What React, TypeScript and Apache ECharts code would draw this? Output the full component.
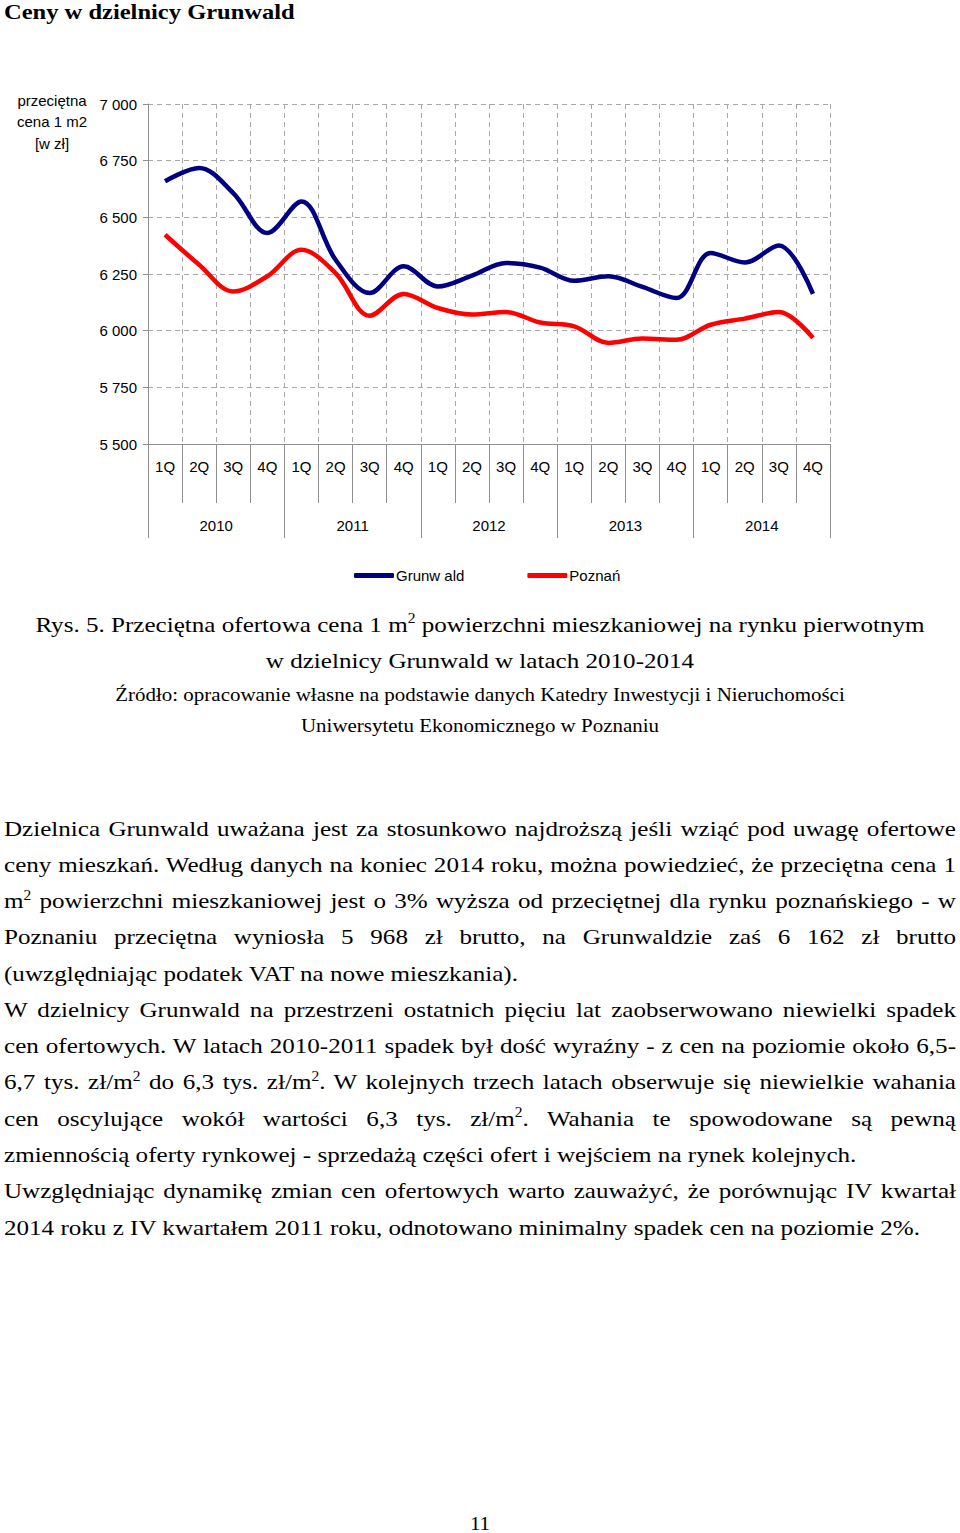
import React, { useEffect, useRef } from "react";
import * as echarts from "echarts";

const quarters = [
  "1Q", "2Q", "3Q", "4Q", "1Q", "2Q", "3Q", "4Q", "1Q", "2Q",
  "3Q", "4Q", "1Q", "2Q", "3Q", "4Q", "1Q", "2Q", "3Q", "4Q",
];
const years = ["2010", "2011", "2012", "2013", "2014"];
const grunwald = [
  6659, 6718, 6607, 6431, 6570, 6313, 6166, 6284, 6195, 6243,
  6299, 6278, 6220, 6240, 6193, 6144, 6343, 6301, 6376, 6162,
];
const poznan = [
  6423, 6291, 6173, 6240, 6357, 6254, 6066, 6162, 6100, 6071,
  6082, 6036, 6019, 5946, 5965, 5960, 6026, 6053, 6082, 5968,
];
const seriesNames = ["Grunw ald", "Poznań"];
const yTicks = { min: 5500, max: 7000, step: 250 };
const yNameLines = ["przeciętna", "cena 1 m2", "[w zł]"];

const SANS = '"Liberation Sans", Arial, sans-serif';
const SERIF = '"Liberation Serif", "Times New Roman", serif';
const GREY = "#8f8f8f";
const DASH = "#a8a8a8";

function Chart() {
  const ref = useRef<HTMLDivElement>(null);
  useEffect(() => {
    if (!ref.current) return;
    const chart = echarts.init(ref.current, null, { renderer: "svg" });
    const grid = { left: 148, right: 130, top: 24, bottom: 156, containLabel: false };
    chart.setOption({
      animation: false,
      textStyle: { fontFamily: SANS },
      grid: [grid, { ...grid }],
      legend: {
        left: 349,
        top: 483,
        itemWidth: 40,
        itemHeight: 5,
        itemGap: 63,
        icon: "roundRect",
        textStyle: { fontFamily: SANS, fontSize: 15, color: "#000", padding: [0, 0, 0, -3] },
        data: seriesNames,
      },
      graphic: yNameLines.map((t, i) => ({
        type: "text",
        x: 52,
        y: [20, 41, 63][i],
        style: {
          text: t,
          fill: "#000",
          fontSize: 15,
          fontFamily: SANS,
          align: "center",
          verticalAlign: "middle",
        },
      })),
      xAxis: [
        {
          type: "category",
          gridIndex: 0,
          position: "bottom",
          data: quarters,
          boundaryGap: true,
          axisLine: { show: true, lineStyle: { color: GREY, width: 1 } },
          axisTick: { show: true, interval: 0, length: 59, lineStyle: { color: GREY } },
          axisLabel: { interval: 0, margin: 15, fontSize: 15, color: "#000", fontFamily: SANS },
          splitLine: { show: true, interval: 0, lineStyle: { color: DASH, type: [5, 4], width: 1 } },
        },
        {
          type: "category",
          gridIndex: 1,
          position: "bottom",
          data: years,
          boundaryGap: true,
          axisLine: { show: false },
          axisTick: { show: true, interval: 0, length: 94, lineStyle: { color: GREY } },
          axisLabel: { interval: 0, margin: 74, fontSize: 15, color: "#000", fontFamily: SANS },
          splitLine: { show: false },
        },
      ],
      yAxis: [
        {
          type: "value",
          gridIndex: 0,
          min: yTicks.min,
          max: yTicks.max,
          interval: yTicks.step,
          axisLine: { show: true, lineStyle: { color: GREY, width: 1 } },
          axisTick: { show: true, length: 5, lineStyle: { color: GREY } },
          axisLabel: {
            margin: 11,
            fontSize: 15,
            color: "#000",
            fontFamily: SANS,
            formatter: (v: number) =>
              `${Math.floor(v / 1000)} ${String(v % 1000).padStart(3, "0")}`,
          },
          splitLine: { show: true, lineStyle: { color: DASH, type: [5, 4], width: 1 } },
        },
        {
          type: "value",
          gridIndex: 1,
          min: yTicks.min,
          max: yTicks.max,
          show: false,
          splitLine: { show: false },
        },
      ],
      series: [
        {
          name: seriesNames[0],
          type: "line",
          xAxisIndex: 0,
          yAxisIndex: 0,
          data: grunwald,
          smooth: 0.35,
          symbol: "none",
          color: "#000080",
          lineStyle: { color: "#000080", width: 4.5 },
        },
        {
          name: seriesNames[1],
          type: "line",
          xAxisIndex: 0,
          yAxisIndex: 0,
          data: poznan,
          smooth: 0.35,
          symbol: "none",
          color: "#ff0000",
          lineStyle: { color: "#ff0000", width: 4.5 },
        },
      ],
    });
    return () => chart.dispose();
  }, []);
  return (
    <div
      ref={ref}
      style={{ position: "absolute", left: 0, top: 80, width: 960, height: 520 }}
    />
  );
}

const SX = 1.14;

function Line(props: {
  top: number;
  left?: number;
  width?: number;
  size?: number;
  lh?: number;
  align?: "left" | "center" | "justify";
  bold?: boolean;
  children: React.ReactNode;
}) {
  const { top, left = 0, width = 960, size = 22, lh, align = "left", bold = false, children } = props;
  return (
    <div
      style={{
        position: "absolute",
        top,
        left,
        width: width / SX,
        transform: `scaleX(${SX})`,
        transformOrigin: "0 0",
        fontFamily: SERIF,
        fontSize: size,
        lineHeight: `${lh ?? size}px`,
        fontWeight: bold ? 700 : 400,
        textAlign: align,
        textAlignLast: align as any,
        whiteSpace: "nowrap",
        color: "#000",
      }}
    >
      {children}
    </div>
  );
}

const Sup = () => (
  <span style={{ fontSize: "0.62em", position: "relative", top: "-0.62em" }}>2</span>
);

export default function App() {
  const B = (i: number) => 836 + 36.27 * i - 18.4;
  const J = (i: number, content: React.ReactNode) => (
    <Line key={i} top={B(i)} left={4} width={952} align="justify">
      {content}
    </Line>
  );
  const L = (i: number, content: React.ReactNode) => (
    <Line key={i} top={B(i)} left={4} width={952} align="left">
      {content}
    </Line>
  );
  return (
    <div
      style={{
        position: "absolute",
        left: 0,
        top: 0,
        width: 960,
        height: 1533,
        overflow: "hidden",
        background: "#fff",
      }}
    >
      <Line top={2} left={4} width={900} size={21.5} lh={21.5} bold>
        Ceny w dzielnicy Grunwald
      </Line>
      <Chart />
      <Line top={613.6} align="center">
        Rys. 5. Przeciętna ofertowa cena 1 m<Sup /> powierzchni mieszkaniowej na rynku pierwotnym
      </Line>
      <Line top={649.6} align="center">
        w dzielnicy Grunwald w latach 2010-2014
      </Line>
      <Line top={685.6} size={18.4} align="center">
        Źródło: opracowanie własne na podstawie danych Katedry Inwestycji i Nieruchomości
      </Line>
      <Line top={716.6} size={18.4} align="center">
        Uniwersytetu Ekonomicznego w Poznaniu
      </Line>
      {J(0, "Dzielnica Grunwald uważana jest za stosunkowo najdroższą jeśli wziąć pod uwagę ofertowe")}
      {J(1, "ceny mieszkań. Według danych na koniec 2014 roku, można powiedzieć, że przeciętna cena 1")}
      {J(2, <>m<Sup /> powierzchni mieszkaniowej jest o 3% wyższa od przeciętnej dla rynku poznańskiego - w</>)}
      {J(3, "Poznaniu przeciętna wyniosła 5 968 zł brutto, na Grunwaldzie zaś 6 162 zł brutto")}
      {L(4, "(uwzględniając podatek VAT na nowe mieszkania).")}
      {J(5, "W dzielnicy Grunwald na przestrzeni ostatnich pięciu lat zaobserwowano niewielki spadek")}
      {J(6, "cen ofertowych. W latach 2010-2011 spadek był dość wyraźny - z cen na poziomie około 6,5-")}
      {J(7, <>6,7 tys. zł/m<Sup /> do 6,3 tys. zł/m<Sup />. W kolejnych trzech latach obserwuje się niewielkie wahania</>)}
      {J(8, <>cen oscylujące wokół wartości 6,3 tys. zł/m<Sup />. Wahania te spowodowane są pewną</>)}
      {L(9, "zmiennością oferty rynkowej - sprzedażą części ofert i wejściem na rynek kolejnych.")}
      {J(10, "Uwzględniając dynamikę zmian cen ofertowych warto zauważyć, że porównując IV kwartał")}
      {L(11, "2014 roku z IV kwartałem 2011 roku, odnotowano minimalny spadek cen na poziomie 2%.")}
      <Line top={1515} size={18.4} align="center">
        11
      </Line>
    </div>
  );
}
